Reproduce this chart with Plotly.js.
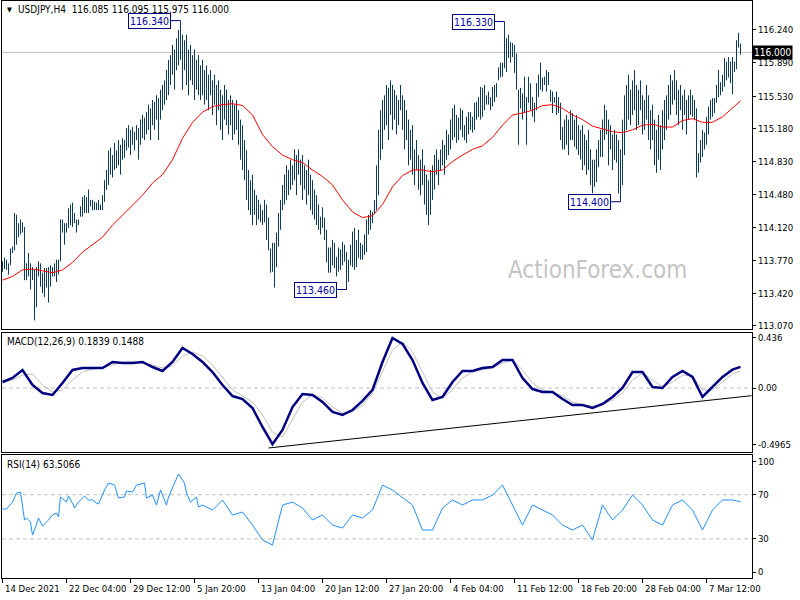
<!DOCTYPE html>
<html><head><meta charset="utf-8">
<script src="https://cdn.plot.ly/plotly-3.0.1.min.js"></script>
<style>html,body{margin:0;padding:0;background:#fff}#chart{width:800px;height:600px}</style>
</head><body><div id="chart"></div>
<script>
const symbolText = "USDJPY,H4  116.085 116.095 115.975 116.000";
const macdLabel = "MACD(12,26,9) 0.1839 0.1488";
const rsiLabel = "RSI(14) 63.5066";
const watermark = "ActionForex.com";

const highs = [
113.76,113.80,113.78,113.74,113.90,113.92,114.28,114.26,114.17,114.21,
114.18,114.13,113.74,113.85,113.74,113.70,113.67,113.70,113.76,113.74,
113.64,113.69,113.69,113.70,113.72,113.70,113.74,113.78,113.78,114.21,
114.21,114.17,114.17,114.33,114.37,114.39,114.28,114.21,114.21,114.35,
114.45,114.47,114.45,114.53,114.42,114.42,114.40,114.39,114.42,114.37,
114.47,114.63,114.74,
114.95,114.98,114.90,115.03,114.95,115.06,115.01,115.08,115.06,115.19,
115.22,115.17,115.20,115.15,115.22,115.19,115.28,115.33,115.30,115.36,
115.44,115.40,115.49,115.47,115.54,115.51,115.60,115.65,115.70,115.81,
115.92,115.97,116.08,116.03,116.15,116.24,116.34,116.19,116.13,116.19,
116.03,116.08,115.97,116.03,115.92,115.97,115.86,115.92,
115.81,115.86,115.76,115.81,115.70,115.76,115.65,115.70,115.60,115.54,
115.65,115.60,115.49,115.54,115.49,115.44,115.49,115.38,115.28,115.22,
115.06,114.95,114.74,114.63,114.69,
114.53,114.47,114.42,114.37,114.31,
114.42,114.37,114.23,113.90,113.96,113.96,114.07,114.28,114.42,114.58,
114.69,114.79,114.74,114.85,114.79,114.96,114.90,114.96,114.85,114.90,
114.79,114.74,114.85,114.69,114.63,114.53,114.47,114.37,114.24,114.34,
114.23,114.10,113.91,113.91,113.99,113.96,113.81,113.91,113.89,113.97,
113.94,113.86,113.78,113.94,114.08,114.12,113.99,114.10,113.96,113.94,
114.05,114.21,114.26,114.31,114.29,114.42,
114.79,115.17,115.38,115.49,115.54,115.65,115.62,115.70,115.65,115.60,
115.54,115.49,115.65,115.54,115.49,115.38,115.28,115.17,115.22,114.96,
115.06,114.90,114.85,114.96,114.79,114.69,114.63,114.74,114.79,
114.90,114.96,114.85,114.96,115.06,115.01,115.17,115.12,115.28,
115.40,115.44,115.33,115.30,115.40,115.38,115.22,115.31,115.36,115.36,
115.31,115.46,115.47,115.52,115.63,115.62,115.65,115.54,115.58,115.52,
115.63,115.65,115.67,115.84,115.89,115.89,116.33,
116.15,116.19,116.11,116.10,116.08,115.99,115.60,115.62,115.56,115.74,
115.52,115.74,115.67,115.52,115.46,115.67,115.76,115.89,115.73,115.74,
115.81,115.79,115.60,115.58,115.52,115.58,115.52,115.46,115.20,115.28,
115.33,115.28,115.38,115.35,115.28,115.33,115.22,115.17,115.22,115.12,
115.06,115.17,114.96,114.85,114.85,114.96,115.06,115.17,115.28,115.44,
115.38,115.28,115.22,115.12,115.17,115.12,115.06,114.96,
115.28,115.54,115.65,115.76,115.60,115.70,115.81,115.65,115.60,115.70,
115.54,115.49,115.65,115.54,115.38,115.44,115.28,115.17,115.33,115.22,
115.38,115.49,115.54,115.65,115.76,115.70,115.81,115.70,115.60,115.65,
115.54,115.60,115.49,115.54,115.60,115.54,115.49,115.40,114.92,115.06,
115.17,115.14,115.31,115.42,115.49,115.51,115.51,115.65,115.81,115.68,
115.76,115.94,115.90,115.95,115.90,115.95,115.90,116.13,116.21,116.095
];
const lows = [
113.65,113.68,113.67,113.62,113.72,113.85,113.88,113.94,114.02,114.05,
114.07,113.56,113.56,113.60,113.46,113.56,113.13,113.27,113.60,113.49,
113.42,113.38,113.48,113.32,113.49,113.60,113.60,113.54,113.62,113.76,
114.07,113.94,114.07,114.12,114.15,114.13,114.17,114.07,114.15,114.24,
114.24,114.28,114.28,114.28,114.35,114.31,114.31,114.31,114.31,114.31,
114.31,114.40,114.53,
114.58,114.69,114.66,114.74,114.76,114.79,114.69,114.85,114.87,114.95,
114.98,114.90,115.01,114.95,115.06,114.85,115.01,115.08,115.06,115.12,
115.17,115.06,115.22,115.17,115.28,115.06,115.28,115.38,115.44,115.49,
115.54,115.65,115.76,115.60,115.81,115.86,115.92,115.60,115.81,115.65,
115.54,115.70,115.65,115.49,115.60,115.54,115.49,115.54,
115.44,115.49,115.38,115.54,115.33,115.44,115.22,115.38,115.17,115.06,
115.28,115.22,115.12,115.22,115.06,115.12,115.17,115.01,114.85,114.74,
114.63,114.42,114.31,114.26,114.15,
114.26,114.15,114.21,114.18,114.15,
114.18,113.99,113.88,113.64,113.65,113.48,113.70,113.92,114.10,114.31,
114.37,114.42,114.47,114.53,114.58,114.63,114.47,114.69,114.58,114.42,
114.53,114.37,114.47,114.31,114.26,114.21,114.15,114.10,114.05,114.12,
113.99,113.75,113.64,113.64,113.72,113.69,113.60,113.65,113.67,113.72,
113.76,113.46,113.54,113.72,113.70,113.67,113.70,113.80,113.78,113.78,
113.83,113.86,114.05,114.10,114.17,114.28,
114.31,114.47,114.85,114.96,115.17,115.22,115.06,115.33,115.17,115.28,
115.12,115.22,115.38,115.17,114.96,115.06,114.79,114.85,114.69,114.58,
114.74,114.53,114.47,114.58,114.37,114.26,114.15,114.26,114.42,
114.53,114.69,114.58,114.74,114.79,114.69,114.85,114.90,114.96,
115.06,115.09,115.03,115.06,115.17,115.09,115.06,115.03,115.12,115.17,
115.14,115.17,115.28,115.31,115.28,115.31,115.38,115.44,115.44,115.38,
115.42,115.47,115.52,115.70,115.73,115.74,115.83,
115.79,115.94,115.89,115.95,115.78,115.60,115.01,115.40,115.28,115.35,
115.01,115.46,115.38,115.31,115.25,115.38,115.52,115.60,115.58,115.65,
115.58,115.65,115.47,115.35,115.46,115.33,115.35,115.06,114.96,114.96,
115.01,114.90,115.06,115.06,114.99,114.96,114.90,114.85,114.74,114.79,
114.69,114.74,114.58,114.49,114.56,114.61,114.77,114.88,114.88,115.06,
115.12,114.79,114.96,114.74,114.85,114.82,114.49,114.40,
114.58,114.90,115.17,115.28,115.22,115.33,115.38,115.17,115.22,115.38,
115.12,115.17,115.28,115.06,114.96,115.06,114.79,114.71,114.85,114.74,
114.96,115.06,115.17,115.28,115.33,115.44,115.49,115.33,115.22,115.38,
115.17,115.33,115.12,115.28,115.33,115.31,115.28,114.66,114.71,114.82,
114.88,114.96,115.01,115.12,115.28,115.31,115.35,115.46,115.52,115.54,
115.58,115.63,115.70,115.73,115.67,115.55,115.79,115.82,116.05,115.975
];

// MA / MACD / signal sampled every 5 bars (last sample = last bar)
const sampleStep = 5;
const maValues = [
113.56,113.60,113.67,113.68,113.66,113.64,113.67,113.75,113.86,113.94,
114.02,114.15,114.26,114.37,114.47,114.60,114.69,114.85,115.08,115.25,
115.36,115.42,115.44,115.45,115.43,115.33,115.12,114.99,114.90,114.85,
114.82,114.74,114.67,114.58,114.42,114.29,114.23,114.25,114.37,114.56,
114.68,114.74,114.74,114.72,114.74,114.83,114.90,114.96,115.00,115.09,
115.22,115.33,115.35,115.38,115.43,115.44,115.40,115.33,115.28,115.21,
115.18,115.15,115.14,115.17,115.22,115.23,115.20,115.20,115.27,115.29,
115.25,115.25,115.31,115.40,115.48
];
const macdValues = [
0.052,0.087,0.157,0.026,-0.044,-0.061,0.044,0.157,0.174,0.174,
0.174,0.227,0.218,0.218,0.227,0.183,0.148,0.227,0.349,0.296,
0.227,0.139,0.026,-0.070,-0.096,-0.174,-0.340,-0.490,-0.366,-0.166,
-0.052,-0.061,-0.122,-0.209,-0.235,-0.192,-0.113,-0.017,0.227,0.436,
0.384,0.244,0.044,-0.105,-0.078,0.052,0.148,0.148,0.174,0.183,
0.244,0.244,0.087,-0.009,-0.035,-0.035,-0.096,-0.148,-0.148,-0.174,
-0.139,-0.078,0.000,0.139,0.139,0.009,0.000,0.096,0.148,0.096,
-0.078,0.009,0.096,0.160,0.184
];
const signalValues = [
0.044,0.070,0.113,0.122,0.026,-0.035,-0.017,0.070,0.139,0.166,
0.174,0.201,0.227,0.227,0.218,0.201,0.174,0.192,0.279,0.314,
0.279,0.201,0.096,-0.017,-0.070,-0.122,-0.235,-0.384,-0.427,-0.279,
-0.122,-0.061,-0.087,-0.166,-0.218,-0.209,-0.148,-0.044,0.139,0.331,
0.401,0.314,0.139,-0.035,-0.087,-0.017,0.087,0.139,0.157,0.174,
0.218,0.244,0.157,0.044,-0.017,-0.035,-0.070,-0.122,-0.148,-0.157,
-0.148,-0.105,-0.044,0.070,0.131,0.070,0.009,0.052,0.113,0.105,
-0.017,-0.017,0.052,0.122,0.149
];
// RSI: bar index and value
const rsiBars = [
0,2,5,7,9,11,12,14,15,16,18,20,22,23,25,27,28,29,32,33,
35,36,38,41,43,45,47,48,50,51,53,56,58,61,62,65,67,71,72,75,
77,79,82,83,86,88,91,92,94,97,98,
100,105,110,115,120,125,130,135,140,145,150,155,160,165,170,175,180,185,190,195,
200,205,210,215,220,225,230,235,240,245,250,255,260,265,270,275,280,285,290,295,
300,305,310,315,320,325,330,335,340,345,350,355,360,365,369
];
const rsiValues = [
57.0,57.0,63.3,71.5,72.4,47.1,48.9,45.2,33.5,38.0,48.9,41.6,45.2,47.0,51.6,53.4,49.8,67.9,63.3,68.8,
62.4,57.9,63.3,68.8,65.2,65.2,62.4,61.5,69.7,74.2,80.5,78.7,67.0,67.9,73.3,72.4,78.7,80.5,67.0,69.7,
60.6,74.2,60.6,67.9,80.5,88.7,80.5,71.5,63.3,67.9,58.8,
60.6,56.1,65.2,51.6,54.3,42.5,29.0,24.4,60.6,63.3,57.9,47.1,51.6,42.5,39.8,51.6,48.9,56.1,78.7,74.2,
67.0,60.6,38.0,38.0,57.9,65.2,60.6,65.2,65.2,69.7,78.7,60.6,42.5,60.6,56.1,51.6,42.5,38.0,42.5,29.0,
60.6,47.1,56.1,69.7,60.6,47.1,42.5,60.6,65.2,56.1,38.0,56.1,65.2,65.2,63.5
];

const priceTicks = [116.24,115.89,115.53,115.18,114.83,114.48,114.12,113.77,113.42,113.07];
const priceTickText = ["116.240","115.890","115.530","115.180","114.830","114.480","114.120","113.770","113.420","113.070"];
const macdTicks = [0.436, 0, -0.4965];
const macdTickText = ["0.436","0.00","-0.4965"];
const rsiTicks = [100, 70, 30, 0];
const rsiLevels = [70, 30];
const dateTickBars = [0,32,64,96,128,160,192,224,256,288,320,352];
const dateTickLabels = ["14 Dec 2021","22 Dec 04:00","29 Dec 12:00","5 Jan 20:00","13 Jan 04:00","20 Jan 12:00","27 Jan 20:00","4 Feb 04:00","11 Feb 12:00","18 Feb 20:00","28 Feb 04:00","7 Mar 12:00"];
const lastPrice = 116.000;
const lastPriceText = "116.000";
const pivotBars = [89, 251, 172, 309];
const pivotPrices = [116.340, 116.330, 113.460, 114.400];
const pivotTexts = ["116.340","116.330","113.460","114.400"];
const trendBars = [133, 374.5];
const trendValues = [-0.523, -0.067];

const FONT = 'Tahoma, "DejaVu Sans Condensed", "Liberation Sans", sans-serif';
const nBars = highs.length;
const sampleBars = maValues.map((_, k) => Math.min(k * sampleStep, nBars - 1));

const bx = [], by = [];
for (let i = 0; i < nBars; i++) { bx.push(i, i, null); by.push(lows[i], highs[i], null); }

const traces = [
  {x: bx, y: by, type: 'scatter', mode: 'lines', line: {color: '#0e3b58', width: 1}, xaxis: 'x', yaxis: 'y', hoverinfo: 'skip'},
  {x: sampleBars, y: maValues, type: 'scatter', mode: 'lines', line: {color: '#ff0000', width: 1}, xaxis: 'x', yaxis: 'y'},
  {x: sampleBars, y: signalValues, type: 'scatter', mode: 'lines', line: {color: '#c0c0c0', width: 1}, xaxis: 'x2', yaxis: 'y2'},
  {x: sampleBars, y: macdValues, type: 'scatter', mode: 'lines', line: {color: '#000080', width: 2.5}, xaxis: 'x2', yaxis: 'y2'},
  {x: rsiBars, y: rsiValues, type: 'scatter', mode: 'lines', line: {color: '#1e90ff', width: 1}, xaxis: 'x3', yaxis: 'y3'}
];

const xr = [-0.25, 374.75];
const xBase = {range: xr, showgrid: false, zeroline: false, showline: true, mirror: true, linecolor: '#000', linewidth: 1, showticklabels: false, ticks: '', fixedrange: true};
const tickFont = {family: FONT, size: 9.5, color: '#000'};
const yBase = {side: 'right', showgrid: false, zeroline: false, showline: true, mirror: true, linecolor: '#000', linewidth: 1, ticks: 'outside', ticklen: 3, tickcolor: '#000', tickfont: tickFont, fixedrange: true};

const H = 577, B = 578;
const py = p => (B - p) / H;
const px = p => (p - 2) / 750;

const shapes = [
  {type: 'line', xref: 'paper', x0: 0, x1: 1, yref: 'y', y0: lastPrice, y1: lastPrice, line: {color: '#c0c0c0', width: 1}, layer: 'below'},
  {type: 'line', xref: 'paper', x0: 0, x1: 1, yref: 'y2', y0: 0, y1: 0, line: {color: '#c0c0c0', width: 1, dash: '4px,3px'}, layer: 'below'},
  {type: 'line', xref: 'x2', yref: 'y2', x0: trendBars[0], x1: trendBars[1], y0: trendValues[0], y1: trendValues[1], line: {color: '#000', width: 1}}
];
rsiLevels.forEach(v => shapes.push({type: 'line', xref: 'paper', x0: 0, x1: 1, yref: 'y3', y0: v, y1: v, line: {color: '#c0c0c0', width: 1, dash: '4px,3px'}, layer: 'below'}));

const annotations = [
  {xref: 'paper', yref: 'paper', x: px(5), y: py(10), text: '▼', showarrow: false, xanchor: 'left', yanchor: 'middle', font: {family: FONT, size: 7, color: '#000'}},
  {xref: 'paper', yref: 'paper', x: px(16), y: py(10), text: symbolText, showarrow: false, xanchor: 'left', yanchor: 'middle', font: {family: FONT, size: 10, color: '#000'}},
  {xref: 'paper', yref: 'paper', x: px(5), y: py(341), text: macdLabel, showarrow: false, xanchor: 'left', yanchor: 'middle', font: {family: FONT, size: 10, color: '#000'}},
  {xref: 'paper', yref: 'paper', x: px(5), y: py(464), text: rsiLabel, showarrow: false, xanchor: 'left', yanchor: 'middle', font: {family: FONT, size: 10, color: '#000'}},
  {xref: 'paper', yref: 'paper', x: px(597), y: py(270), text: watermark, showarrow: false, xanchor: 'center', yanchor: 'middle', font: {family: FONT, size: 24, color: '#c4c4c4'}},
  {xref: 'paper', yref: 'y', x: 1, y: lastPrice, text: lastPriceText, showarrow: false, xanchor: 'left', yanchor: 'middle', bgcolor: '#000', borderpad: 1, font: {family: FONT, size: 10, color: '#fff'}}
];
pivotBars.forEach((b, k) => {
  annotations.push({xref: 'x', yref: 'y', x: b - 5, y: pivotPrices[k], text: pivotTexts[k], showarrow: false, xanchor: 'right', yanchor: 'middle', bgcolor: '#fff', bordercolor: '#000080', borderwidth: 1, borderpad: 1, font: {family: FONT, size: 10.5, color: '#0000a8'}});
  shapes.push({type: 'line', xref: 'x', yref: 'y', x0: b - 5, x1: b, y0: pivotPrices[k], y1: pivotPrices[k], line: {color: '#000080', width: 1}});
});
dateTickBars.forEach((b, k) => annotations.push({xref: 'x3', yref: 'paper', x: b, y: py(588), text: dateTickLabels[k], showarrow: false, xanchor: 'left', yanchor: 'middle', font: {family: FONT, size: 9.5, color: '#000'}}));

const layout = {
  width: 800, height: 600,
  margin: {l: 2, r: 48, t: 1, b: 22, pad: 0},
  paper_bgcolor: '#fff', plot_bgcolor: '#fff',
  showlegend: false,
  xaxis: Object.assign({}, xBase, {anchor: 'y'}),
  xaxis2: Object.assign({}, xBase, {anchor: 'y2'}),
  xaxis3: Object.assign({}, xBase, {anchor: 'y3', ticks: 'outside', ticklen: 4, tickcolor: '#000', tickmode: 'array', tickvals: dateTickBars}),
  yaxis: Object.assign({}, yBase, {domain: [py(329), 1], range: [113.037, 116.550], anchor: 'x', tickmode: 'array', tickvals: priceTicks, ticktext: priceTickText}),
  yaxis2: Object.assign({}, yBase, {domain: [py(452), py(333)], range: [-0.558, 0.4795], anchor: 'x2', tickmode: 'array', tickvals: macdTicks, ticktext: macdTickText}),
  yaxis3: Object.assign({}, yBase, {domain: [0, py(455)], range: [-5.43, 105.9], anchor: 'x3', tickmode: 'array', tickvals: rsiTicks, ticktext: rsiTicks.map(String)}),
  shapes: shapes,
  annotations: annotations
};
Plotly.newPlot('chart', traces, layout, {staticPlot: true, displayModeBar: false});
</script></body></html>
